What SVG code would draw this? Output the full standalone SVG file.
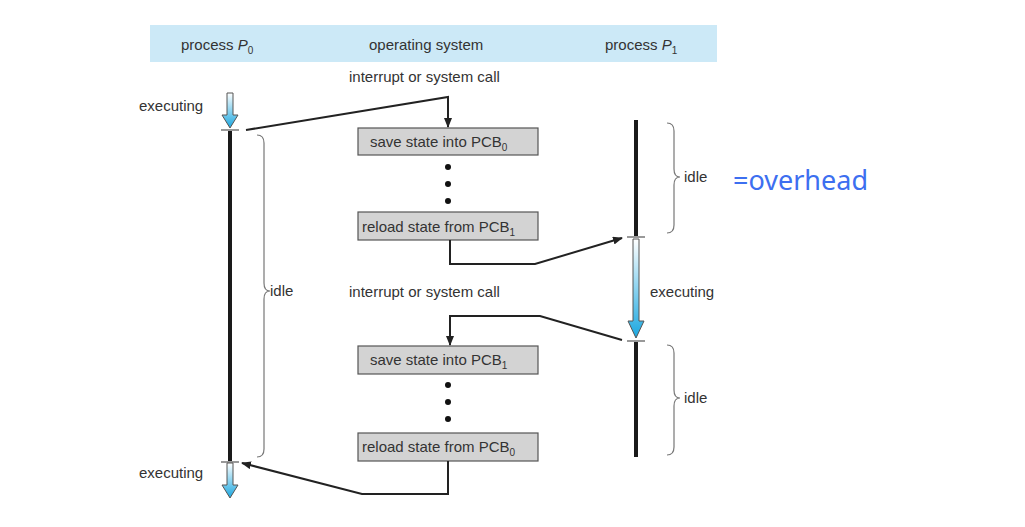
<svg xmlns="http://www.w3.org/2000/svg" width="1025" height="527" viewBox="0 0 1025 527">
<defs>
<linearGradient id="g" x1="0" y1="0" x2="0" y2="1"><stop offset="0" stop-color="#ffffff"/><stop offset="1" stop-color="#1aa7e0"/></linearGradient>
<marker id="a" markerWidth="10" markerHeight="8" refX="9" refY="4" orient="auto" markerUnits="userSpaceOnUse"><path d="M0,0 L10,4 L0,8 Z" fill="#222"/></marker>
<style>
text{font-family:"Liberation Sans",Arial,sans-serif;font-size:15px;fill:#333}
.box{fill:#d3d3d3;stroke:#555;stroke-width:1.2}
.tl{stroke:#1a1a1a;stroke-width:4}
.br{fill:none;stroke:#777;stroke-width:1.2}
.c{fill:none;stroke:#222;stroke-width:2}
.ex{fill:url(#g);stroke:#555;stroke-width:1}
.tick{stroke:#777;stroke-width:1.5}
</style>
</defs>
<rect width="1025" height="527" fill="#fff"/>
<g id="header">
<rect x="150" y="25" width="567" height="37" fill="#cce9f7"/>
<text x="181" y="50">process <tspan font-style="italic">P</tspan><tspan font-size="10" dy="4">0</tspan></text>
<text x="369" y="50">operating system</text>
<text x="605" y="50">process <tspan font-style="italic">P</tspan><tspan font-size="10" dy="4">1</tspan></text>
</g>
<g id="p0">
<path class="ex" d="M227,93 h6 v22 h5 l-8,13 l-8,-13 h5 z"/>
<line class="tick" x1="221" y1="130" x2="239" y2="130"/>
<line class="tl" x1="230" y1="131" x2="230" y2="461"/>
<line class="tick" x1="221" y1="462" x2="239" y2="462"/>
<path class="ex" d="M227,463 h6 v22 h5 l-8,13 l-8,-13 h5 z"/>
<text x="139" y="111">executing</text>
<text x="139" y="478">executing</text>
<path class="br" d="M257,135 q7,0 7,8 v140 q0,8 6,8 q-6,0 -6,8 v150 q0,8 -7,8"/>
<text x="270" y="296">idle</text>
</g>
<g id="p1">
<line class="tl" x1="636" y1="120" x2="636" y2="236"/>
<line class="tick" x1="627" y1="237" x2="645" y2="237"/>
<path class="ex" d="M633,239 h6 v82 h5 l-8,17 l-8,-17 h5 z"/>
<line class="tick" x1="627" y1="341" x2="645" y2="341"/>
<line class="tl" x1="636" y1="342" x2="636" y2="457"/>
<text x="650" y="297">executing</text>
<path class="br" d="M667,123 q7,0 7,8 v38 q0,8 6,8 q-6,0 -6,8 v40 q0,8 -7,8"/>
<text x="684" y="182">idle</text>
<path class="br" d="M667,345 q7,0 7,8 v37 q0,8 6,8 q-6,0 -6,8 v41 q0,8 -7,8"/>
<text x="684" y="403">idle</text>
</g>
<g id="os">
<text x="349" y="82">interrupt or system call</text>
<text x="349" y="297">interrupt or system call</text>
<g id="box1"><rect class="box" x="358" y="128" width="180" height="27"/><text x="370" y="147">save state into PCB<tspan font-size="10" dy="4">0</tspan></text></g>
<g id="box2"><rect class="box" x="358" y="212" width="180" height="28"/><text x="362" y="232">reload state from PCB<tspan font-size="10" dy="4">1</tspan></text></g>
<g id="box3"><rect class="box" x="358" y="346" width="180" height="28"/><text x="370" y="365">save state into PCB<tspan font-size="10" dy="4">1</tspan></text></g>
<g id="box4"><rect class="box" x="358" y="433" width="180" height="28"/><text x="362" y="452">reload state from PCB<tspan font-size="10" dy="4">0</tspan></text></g>
<g fill="#111"><circle cx="448" cy="167" r="3"/><circle cx="448" cy="184" r="3"/><circle cx="448" cy="201" r="3"/><circle cx="448" cy="385" r="3"/><circle cx="448" cy="402" r="3"/><circle cx="448" cy="419" r="3"/></g>
</g>
<g id="connectors">
<path class="c" marker-end="url(#a)" d="M246,130 L448,97 L448,127"/>
<path class="c" marker-end="url(#a)" d="M450,240 L450,264 L535,264 L622,238"/>
<path class="c" marker-end="url(#a)" d="M622,340 L540,316 L450,316 L450,345"/>
<path class="c" marker-end="url(#a)" d="M448,461 L448,494 L362,494 L242,463"/>
</g>
<text x="733" y="190" style="font-family:'Noto Sans','Open Sans',sans-serif;font-size:27px;fill:#3d6ff0">=overhead</text>
</svg>
